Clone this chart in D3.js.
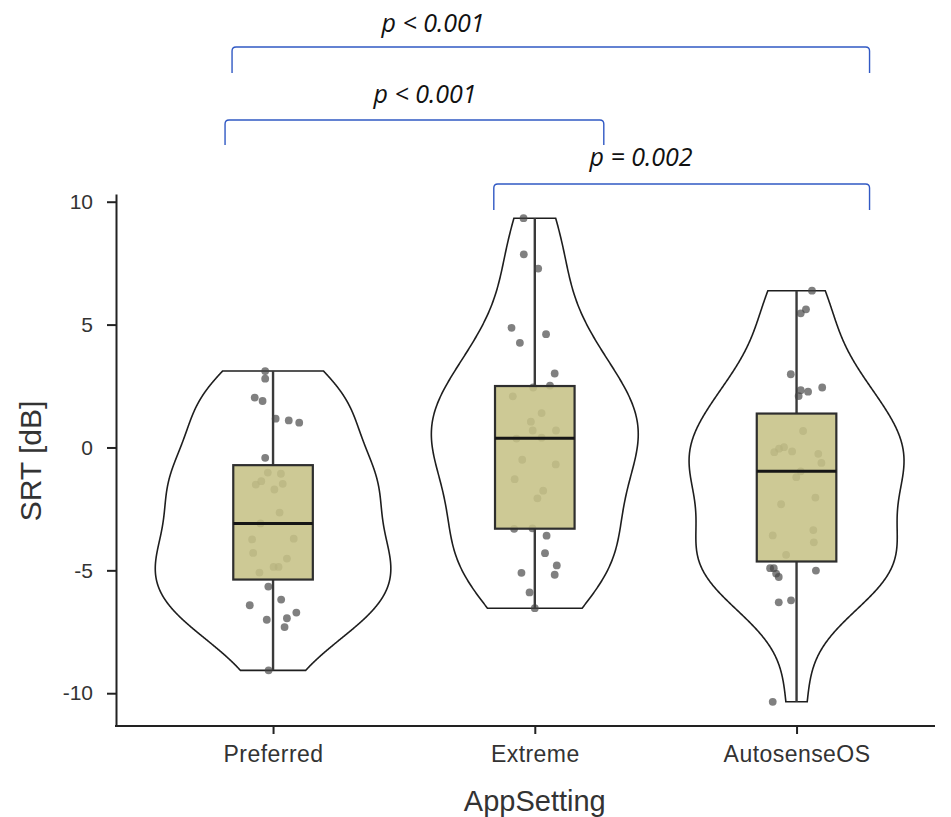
<!DOCTYPE html>
<html>
<head>
<meta charset="utf-8">
<script src="https://cdn.jsdelivr.net/npm/d3@7"></script>
<style>
  body { margin: 0; background: #fff; }
  text { font-family: "Liberation Sans", Arial, sans-serif; }
  .ptext { font-family: "Open Sans", "Noto Sans", sans-serif; font-style: italic; }
</style>
</head>
<body>
<div id="chart"></div>
<script>
//
// Violin + box + jittered points, SRT by AppSetting
//
const categories = ["Preferred", "Extreme", "AutosenseOS"]

// SRT values, one array per setting
const preferredSRT = [3.11, 2.80, 2.03, 1.89, 1.17, 1.10, 1.01, -0.42, -1.02, -1.07, -1.37, -1.51, -1.48, -1.71,
  -2.65, -3.09, -3.74, -3.71, -4.29, -4.52, -4.86, -4.86, -5.09, -5.66, -6.19, -6.42, -6.72, -7.01, -6.95, -7.31, -9.07]
const extremeSRT = [9.33, 7.86, 7.28, 4.87, 4.61, 4.26, 3.01, 2.52, 2.44, 2.08, 1.40, 1.05, 0.69, 0.69, 0.36,
  0.40, -0.50, -0.69, -1.29, -1.76, -2.07, -3.31, -3.29, -3.59, -4.30, -4.80, -5.10, -5.18, -5.90, -6.54]
const autosenseSRT = [6.38, 5.62, 5.46, 2.98, 2.44, 2.33, 2.27, 2.09, 0.67, 0.01, -0.16, -0.19, -0.05, -0.26,
  -0.63, -0.97, -1.21, -2.04, -2.31, -3.36, -3.58, -3.86, -4.37, -4.91, -4.91, -5.13, -5.27, -5.01, -6.30, -6.22, -10.35]

// horizontal jitter of each point, in category units (as seen in the picture)
const preferredJitter = [-0.03, -0.03, -0.07, -0.04, 0.01, 0.06, 0.10, -0.03, -0.02, 0.03, -0.045, -0.066, 0.037, 0.005,
  0.025, -0.048, -0.08, 0.079, -0.076, 0.053, 0.002, 0.021, -0.052, -0.018, 0.031, -0.089, 0.089, -0.024, 0.053, 0.044, -0.017]
const extremeJitter = [-0.043, -0.042, 0.013, -0.089, 0.043, -0.057, 0.076, 0.058, -0.006, -0.084, 0.026, -0.015, -0.008, 0.081, -0.07,
  0.026, -0.048, 0.08, -0.077, 0.032, 0.01, -0.079, -0.009, 0.045, 0.039, 0.084, -0.051, 0.076, -0.02, 0.0]
const autosenseJitter = [0.059, 0.036, 0.016, -0.022, 0.098, 0.016, 0.044, 0.008, 0.025, -0.048, -0.017, -0.085, -0.067, 0.083,
  0.095, 0.016, -0.001, 0.072, -0.059, 0.064, -0.091, 0.066, -0.04, -0.101, -0.087, -0.078, -0.068, 0.074, -0.068, -0.021, -0.091]

const yTicks = [-10, -5, 0, 5, 10]

// pairwise comparisons shown above the plot
const comparisons = [
  { from: "Preferred", to: "AutosenseOS", label: "p < 0.001" },
  { from: "Preferred", to: "Extreme", label: "p < 0.001" },
  { from: "Extreme", to: "AutosenseOS", label: "p = 0.002" }
]

//
// layout
//
const W = 951, H = 817
const panel = { left: 116, right: 935, bottom: 726, top: 194 }
const bracketLayout = [
  { dx0: -41, dx1: 73, top: 47, leg: 26, labelX: 433, labelY: 32 },
  { dx0: -48, dx1: 69, top: 120, leg: 25, labelX: 425, labelY: 103 },
  { dx0: -41, dx1: 73, top: 184, leg: 26, labelX: 641, labelY: 166 }
]

const groups = [
  { name: categories[0], values: preferredSRT, jitter: preferredJitter },
  { name: categories[1], values: extremeSRT, jitter: extremeJitter },
  { name: categories[2], values: autosenseSRT, jitter: autosenseJitter }
]

const svg = d3.select("#chart").append("svg")
  .attr("width", W)
  .attr("height", H)

// scales
const x = d3.scalePoint()
  .domain(categories)
  .range([panel.left, 953.6])
  .padding(0.6)
const step = x.step()

const all = groups.flatMap(g => g.values)
const ext = d3.extent(all)
const pad = (ext[1] - ext[0]) * 0.05
const y = d3.scaleLinear()
  .domain([ext[0] - pad, ext[1] + pad])
  .range([panel.bottom, panel.top])

// kernel density, bandwidth like R's bw.nrd0
function bwNrd0(v) {
  const s = d3.deviation(v)
  const sorted = v.slice().sort(d3.ascending)
  const iqr = d3.quantileSorted(sorted, 0.75) - d3.quantileSorted(sorted, 0.25)
  return 0.9 * Math.min(s, iqr / 1.34) * Math.pow(v.length, -0.2)
}
function kde(v, n) {
  const bw = bwNrd0(v)
  const [lo, hi] = d3.extent(v)
  const out = []
  for (let i = 0; i < n; i++) {
    const t = lo + (hi - lo) * i / (n - 1)
    let s = 0
    v.forEach(d => {
      const u = (t - d) / bw
      s += Math.exp(-0.5 * u * u)
    })
    out.push([t, s / (v.length * bw * Math.sqrt(2 * Math.PI))])
  }
  return out
}

groups.forEach(g => {
  g.density = kde(g.values, 512)
  const sorted = g.values.slice().sort(d3.ascending)
  g.q1 = d3.quantileSorted(sorted, 0.25)
  g.med = d3.quantileSorted(sorted, 0.5)
  g.q3 = d3.quantileSorted(sorted, 0.75)
  const iqr = g.q3 - g.q1
  g.lo = d3.min(sorted.filter(d => d >= g.q1 - 1.5 * iqr))
  g.hi = d3.max(sorted.filter(d => d <= g.q3 + 1.5 * iqr))
})
const maxDens = d3.max(groups, g => d3.max(g.density, d => d[1]))
const wScale = d3.scaleLinear().domain([0, maxDens]).range([0, step * 0.45])

// violins
groups.forEach(g => {
  const cx = x(g.name)
  const pts = g.density.map(d => [cx - wScale(d[1]), y(d[0])])
    .concat(g.density.slice().reverse().map(d => [cx + wScale(d[1]), y(d[0])]))
  svg.append("path")
    .attr("d", d3.line()(pts) + "Z")
    .attr("fill", "#fff")
    .attr("stroke", "#1e1e1e")
    .attr("stroke-width", 1.6)
})

// whiskers
groups.forEach(g => {
  const cx = x(g.name)
  svg.append("line")
    .attr("x1", cx).attr("x2", cx)
    .attr("y1", y(g.q3)).attr("y2", y(g.hi))
    .attr("stroke", "#3a3a3a").attr("stroke-width", 2.4)
  svg.append("line")
    .attr("x1", cx).attr("x2", cx)
    .attr("y1", y(g.q1)).attr("y2", y(g.lo))
    .attr("stroke", "#3a3a3a").attr("stroke-width", 2.4)
})

// points
groups.forEach(g => {
  svg.append("g").selectAll("circle")
    .data(g.values)
    .enter()
    .append("circle")
      .attr("cx", (d, i) => x(g.name) + g.jitter[i] * step)
      .attr("cy", d => y(d))
      .attr("r", 3.9)
      .attr("fill", "#444")
      .attr("fill-opacity", 0.68)
})

// boxes
const boxHalf = step * 0.152
groups.forEach(g => {
  const cx = x(g.name)
  svg.append("rect")
    .attr("x", cx - boxHalf)
    .attr("width", boxHalf * 2)
    .attr("y", y(g.q3))
    .attr("height", y(g.q1) - y(g.q3))
    .attr("fill", "#c6c186")
    .attr("fill-opacity", 0.88)
    .attr("stroke", "#2e2e2e")
    .attr("stroke-width", 2.2)
  svg.append("line")
    .attr("x1", cx - boxHalf).attr("x2", cx + boxHalf)
    .attr("y1", y(g.med)).attr("y2", y(g.med))
    .attr("stroke", "#161616").attr("stroke-width", 3)
})

// y axis
const yAxis = svg.append("g")
  .attr("transform", "translate(" + panel.left + ",0)")
  .call(d3.axisLeft(y).tickValues(yTicks).tickFormat(d => String(d))
    .tickSize(9).tickSizeOuter(0).tickPadding(14))
yAxis.select(".domain").attr("stroke", "#222").attr("stroke-width", 2)
yAxis.selectAll(".tick line").attr("stroke", "#222").attr("stroke-width", 2)
yAxis.selectAll(".tick text")
  .style("font-family", "'Liberation Sans', Arial, sans-serif")
  .style("font-size", "21px")
  .attr("fill", "#333")

// x axis
const xAxis = svg.append("g")
  .attr("transform", "translate(0," + panel.bottom + ")")
  .call(d3.axisBottom(x).tickSize(8).tickSizeOuter(0).tickPadding(12))
xAxis.select(".domain").remove()
xAxis.append("line")
  .attr("x1", panel.left - 1).attr("x2", panel.right)
  .attr("stroke", "#222").attr("stroke-width", 2)
xAxis.selectAll(".tick line").attr("stroke", "#222").attr("stroke-width", 2)
xAxis.selectAll(".tick text")
  .style("font-family", "'Liberation Sans', Arial, sans-serif")
  .style("font-size", "23px")
  .style("letter-spacing", "0.45px")
  .attr("fill", "#333")

// axis titles
svg.append("text")
  .attr("x", x(categories[1]))
  .attr("y", 811)
  .attr("text-anchor", "middle")
  .style("font-size", "29px")
  .attr("fill", "#333")
  .text("AppSetting")
svg.append("text")
  .attr("transform", "translate(41,461) rotate(-90)")
  .attr("text-anchor", "middle")
  .style("font-size", "30px")
  .attr("fill", "#333")
  .text("SRT [dB]")

// significance brackets
comparisons.forEach((c, i) => {
  const b = bracketLayout[i]
  const x0 = x(c.from) + b.dx0
  const x1 = x(c.to) + b.dx1
  const r = 4
  const p = d3.path()
  p.moveTo(x0, b.top + b.leg)
  p.lineTo(x0, b.top + r)
  p.quadraticCurveTo(x0, b.top, x0 + r, b.top)
  p.lineTo(x1 - r, b.top)
  p.quadraticCurveTo(x1, b.top, x1, b.top + r)
  p.lineTo(x1, b.top + b.leg)
  svg.append("path")
    .attr("d", p.toString())
    .attr("fill", "none")
    .attr("stroke", "#3159c4")
    .attr("stroke-width", 1.4)
  svg.append("text")
    .attr("class", "ptext")
    .attr("x", b.labelX)
    .attr("y", b.labelY)
    .attr("text-anchor", "middle")
    .style("font-size", "25px")
    .attr("fill", "#111")
    .text(c.label)
})
</script>
</body>
</html>
